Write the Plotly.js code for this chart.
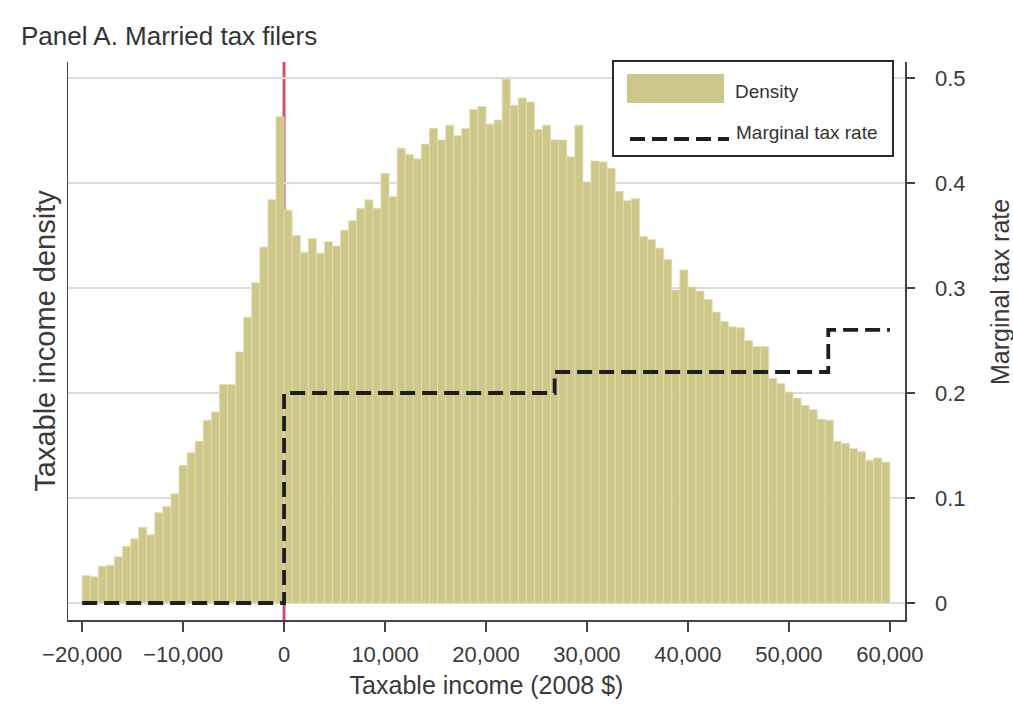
<!DOCTYPE html>
<html>
<head>
<meta charset="utf-8">
<script src="https://cdn.plot.ly/plotly-3.0.1.min.js"></script>
<style>
  html, body { margin: 0; padding: 0; background: #ffffff; }
  #chart { width: 1013px; height: 705px; }
</style>
</head>
<body>
<div id="chart"></div>
<script>
// ---------------- DATA ----------------
// Histogram bins: $800 wide, from -20,000 to 60,000
const binStart = -20000;
const binWidth = 800;

// Taxable income density
const densityBelowZero = [
  0.026, 0.025, 0.035, 0.036, 0.044, 0.054, 0.061, 0.072, 0.065, 0.086,
  0.092, 0.104, 0.131, 0.143, 0.154, 0.174, 0.182, 0.208, 0.208, 0.239,
  0.272, 0.305, 0.339, 0.384, 0.463
];
const densityAboveZero = [
  0.374, 0.350, 0.334, 0.347, 0.333, 0.344, 0.340, 0.355, 0.364, 0.376,
  0.384, 0.376, 0.409, 0.387, 0.433, 0.427, 0.423, 0.437, 0.452, 0.441,
  0.455, 0.445, 0.452, 0.470, 0.473, 0.456, 0.460, 0.499, 0.474, 0.481,
  0.477, 0.451, 0.455, 0.441, 0.441, 0.425, 0.455, 0.401, 0.421, 0.420,
  0.414, 0.392, 0.383, 0.385, 0.349, 0.346, 0.338, 0.327, 0.298, 0.317,
  0.301, 0.297, 0.289, 0.277, 0.268, 0.263, 0.262, 0.250, 0.244, 0.244,
  0.214, 0.209, 0.201, 0.195, 0.188, 0.184, 0.175, 0.174, 0.154, 0.152,
  0.147, 0.144, 0.136, 0.138, 0.134
];

// Marginal tax rate schedule (step function)
const taxIncome = [-20000, 0, 26800, 53900, 60000];
const taxRate   = [0, 0.20, 0.22, 0.26, 0.26];

// Kink point
const kinkIncome = 0;

// Tick labels
const xTickVals = [-20000, -10000, 0, 10000, 20000, 30000, 40000, 50000, 60000];
const xTickText = ['\u221220,000', '\u221210,000', '0', '10,000', '20,000', '30,000', '40,000', '50,000', '60,000'];
const yTickVals = [0, 0.1, 0.2, 0.3, 0.4, 0.5];
const yTickText = ['0', '0.1', '0.2', '0.3', '0.4', '0.5'];

// Text
const chartTitle = 'Panel A. Married tax filers';
const xTitle = 'Taxable income (2008 $)';
const yLeftTitle = 'Taxable income density';
const yRightTitle = 'Marginal tax rate';
const legendDensity = 'Density';
const legendTax = 'Marginal tax rate';

// ---------------- BUILD ----------------
const density = densityBelowZero.concat(densityAboveZero);
const binCenters = density.map((_, i) => binStart + binWidth * (i + 0.5));

const W = 1013, H = 705;
const M = { l: 68, r: 108, t: 62, b: 85 };
const plotW = W - M.l - M.r, plotH = H - M.t - M.b;
const px = x => (x - M.l) / plotW;          // pixel -> paper x
const py = y => (H - M.b - y) / plotH;      // pixel -> paper y

const textColor = '#3a3a3a';
const barColor = '#cdc78a';
const fontFam = '"Liberation Sans", Arial, sans-serif';
const yRange = [-0.0162, 0.5152];
const dashStyle = '15px,7px';

const traces = [
  {
    type: 'bar',
    name: legendDensity,
    x: binCenters,
    y: density,
    width: binWidth,
    marker: { color: barColor, line: { color: '#e2deb0', width: 0.8 } },
    yaxis: 'y',
    showlegend: false,
    hoverinfo: 'x+y'
  },
  {
    type: 'scatter',
    mode: 'lines',
    name: legendTax,
    x: taxIncome,
    y: taxRate,
    line: { shape: 'hv', color: '#1e1e1e', width: 3.8, dash: dashStyle },
    yaxis: 'y2',
    showlegend: false
  }
];

const layout = {
  width: W, height: H,
  margin: M,
  paper_bgcolor: '#ffffff',
  plot_bgcolor: '#ffffff',
  font: { family: fontFam, color: textColor },
  bargap: 0,
  showlegend: false,
  title: {
    text: chartTitle,
    font: { size: 26, color: '#333333', family: fontFam },
    xref: 'container', yref: 'container',
    x: 21 / W, xanchor: 'left',
    y: 1 - 36 / H, yanchor: 'middle'
  },
  xaxis: {
    range: [-21400, 61500],
    tickvals: xTickVals,
    ticktext: xTickText,
    ticks: 'outside', ticklen: 10, tickwidth: 1.5, tickcolor: '#444',
    ticklabelstandoff: 4,
    tickfont: { size: 22, color: textColor },
    showline: true, linecolor: '#444', linewidth: 1.5,
    showgrid: false, zeroline: false,
    title: { text: xTitle, font: { size: 25, color: textColor }, standoff: 10 }
  },
  yaxis: {
    side: 'left',
    range: yRange,
    tickvals: yTickVals,
    showticklabels: false,
    ticks: '',
    showgrid: true, gridcolor: '#dcdcdc', gridwidth: 1.5,
    zeroline: false,
    showline: true, linecolor: '#444', linewidth: 1.5,
    title: { text: yLeftTitle, font: { size: 29, color: textColor }, standoff: 2 }
  },
  yaxis2: {
    overlaying: 'y',
    side: 'right',
    range: yRange,
    tickvals: yTickVals,
    ticktext: yTickText,
    ticks: 'outside', ticklen: 8, tickwidth: 1.5, tickcolor: '#444',
    ticklabelstandoff: 16,
    tickfont: { size: 22, color: textColor },
    showgrid: false, zeroline: false,
    showline: true, linecolor: '#444', linewidth: 1.5
  },
  shapes: [
    // red kink line at zero taxable income
    { type: 'line', xref: 'x', yref: 'paper', x0: kinkIncome, x1: kinkIncome, y0: 0, y1: 1,
      line: { color: '#d2506a', width: 3 }, layer: 'below' },
    // legend box
    { type: 'rect', xref: 'paper', yref: 'paper',
      x0: px(613), x1: px(893), y0: py(156), y1: py(61),
      fillcolor: '#ffffff', line: { color: '#2a2a2a', width: 2 } },
    // legend swatch (density)
    { type: 'rect', xref: 'paper', yref: 'paper',
      x0: px(627), x1: px(724), y0: py(103), y1: py(74),
      fillcolor: barColor, line: { width: 0 } },
    // legend dashed line (tax rate)
    { type: 'line', xref: 'paper', yref: 'paper',
      x0: px(630), x1: px(729), y0: py(139), y1: py(139),
      line: { color: '#1e1e1e', width: 3.8, dash: dashStyle } }
  ],
  annotations: [
    { xref: 'paper', yref: 'paper', x: px(733), y: py(91), xanchor: 'left', yanchor: 'middle',
      text: legendDensity, showarrow: false, font: { size: 19, color: '#333' } },
    { xref: 'paper', yref: 'paper', x: px(734), y: py(132), xanchor: 'left', yanchor: 'middle',
      text: legendTax, showarrow: false, font: { size: 19, color: '#333' } },
    { xref: 'paper', yref: 'paper', x: px(1000), y: py(292), xanchor: 'center', yanchor: 'middle',
      textangle: -90, text: yRightTitle, showarrow: false, font: { size: 25, color: textColor } }
  ]
};

Plotly.newPlot('chart', traces, layout, { displayModeBar: false, staticPlot: true });
</script>
</body>
</html>
